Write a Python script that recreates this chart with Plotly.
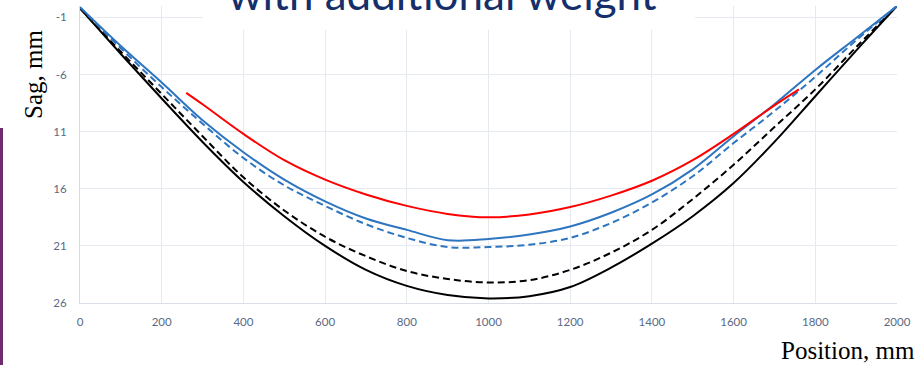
import plotly.graph_objects as go

# ---- data ----
x_pos = [0, 100, 200, 300, 400, 500, 600, 700, 800, 900, 1000,
         1100, 1200, 1300, 1400, 1500, 1600, 1700, 1800, 1900, 2000]

black_solid = [0.2, 4.2, 8.1, 11.9, 15.4, 18.4, 21.0, 23.1, 24.5, 25.3, 25.6,
               25.4, 24.6, 22.9, 20.8, 18.4, 15.5, 11.9, 7.9, 3.9, 0.0]
black_dashed = [0.2, 4.0, 7.7, 11.4, 15.0, 17.9, 20.2, 21.9, 23.2, 23.9, 24.2,
                24.0, 23.1, 21.6, 19.6, 16.9, 13.9, 10.6, 7.3, 3.6, 0.0]
blue_solid = [0.1, 3.5, 6.7, 10.0, 12.8, 15.2, 17.1, 18.6, 19.6, 20.5, 20.4,
              20.0, 19.3, 18.1, 16.5, 14.3, 11.4, 8.6, 5.6, 2.8, 0.0]
blue_dashed = [0.1, 3.7, 7.1, 10.3, 13.3, 15.7, 17.5, 19.1, 20.3, 21.1, 21.1,
               20.9, 20.3, 19.0, 17.2, 14.9, 12.0, 9.2, 6.2, 3.0, 0.0]

red_x = [260, 300, 400, 500, 600, 700, 800, 900, 1000, 1100, 1200,
         1300, 1400, 1500, 1600, 1700, 1760]
red_y = [7.6, 8.6, 11.2, 13.5, 15.2, 16.5, 17.5, 18.2, 18.5, 18.25, 17.6,
         16.6, 15.3, 13.5, 11.2, 8.7, 7.3]

y_tickvals = [1, 6, 11, 16, 21, 26]
y_ticktext = ["-1", "-6", "11", "16", "21", "26"]
x_tickvals = [0, 200, 400, 600, 800, 1000, 1200, 1400, 1600, 1800, 2000]

title_text = "with additional weight"
y_title = "Sag, mm"
x_title = "Position, mm"

BLUE = "#2E75C0"

fig = go.Figure()
line_kw = dict(shape="spline", smoothing=1.0)
fig.add_trace(go.Scatter(x=x_pos, y=black_solid, mode="lines",
                         line=dict(color="black", width=2, **line_kw)))
fig.add_trace(go.Scatter(x=x_pos, y=black_dashed, mode="lines",
                         line=dict(color="black", width=2, dash="7px,4px", **line_kw)))
fig.add_trace(go.Scatter(x=x_pos, y=blue_dashed, mode="lines",
                         line=dict(color=BLUE, width=2, dash="7px,4px", **line_kw)))
fig.add_trace(go.Scatter(x=x_pos, y=blue_solid, mode="lines",
                         line=dict(color=BLUE, width=2, **line_kw)))
fig.add_trace(go.Scatter(x=red_x, y=red_y, mode="lines",
                         line=dict(color="#FF0000", width=2, **line_kw)))

W, H = 923, 365
L, R, T, B = 80, 26, 6, 62
pw, ph = W - L - R, H - T - B


def px_to_paper_x(px):
    return (px - L) / pw


def px_to_paper_y(py):
    return 1 - (py - T) / ph


grid_col = "#E6E9F0"
tick_font = dict(family="Lato, Open Sans, sans-serif", size=11.5, color="#5A6A84")

fig.update_layout(
    width=W, height=H,
    margin=dict(l=L, r=R, t=T, b=B),
    paper_bgcolor="white", plot_bgcolor="white",
    showlegend=False,
    xaxis=dict(range=[0, 2000], tickvals=x_tickvals, showgrid=True,
               gridcolor=grid_col, gridwidth=1, zeroline=False,
               showline=True, linecolor="#D9DEE8", linewidth=1,
               ticks="", tickfont=tick_font, ticklabelstandoff=8),
    yaxis=dict(range=[26, 0], tickvals=y_tickvals, ticktext=y_ticktext,
               showgrid=True, gridcolor=grid_col, gridwidth=1, zeroline=False,
               showline=True, linecolor="#D3DAE6", linewidth=1,
               ticks="", tickfont=tick_font, ticklabelstandoff=10),
    shapes=[
        dict(type="rect", xref="paper", yref="paper",
             x0=px_to_paper_x(203), x1=px_to_paper_x(695),
             y0=px_to_paper_y(30), y1=px_to_paper_y(-2),
             fillcolor="white", line=dict(width=0), layer="above"),
        dict(type="line", xref="paper", yref="paper",
             x0=px_to_paper_x(1.5), x1=px_to_paper_x(1.5),
             y0=px_to_paper_y(128), y1=px_to_paper_y(366),
             line=dict(color="#6E2C6E", width=3), layer="above"),
    ],
    annotations=[
        dict(text=title_text, xref="paper", yref="paper",
             x=px_to_paper_x(442), y=px_to_paper_y(21),
             xanchor="center", yanchor="bottom", showarrow=False,
             font=dict(family="Lato, Open Sans, sans-serif", size=44, color="#142F6A")),
        dict(text=y_title, xref="paper", yref="paper",
             x=px_to_paper_x(34), y=px_to_paper_y(75),
             xanchor="center", yanchor="middle", textangle=-90, showarrow=False,
             font=dict(family="Liberation Serif, Times New Roman, serif", size=25, color="black")),
        dict(text=x_title, xref="paper", yref="paper",
             x=px_to_paper_x(848), y=px_to_paper_y(350),
             xanchor="center", yanchor="middle", showarrow=False,
             font=dict(family="Liberation Serif, Times New Roman, serif", size=25, color="black")),
    ],
)

fig.write_html("out.html")
